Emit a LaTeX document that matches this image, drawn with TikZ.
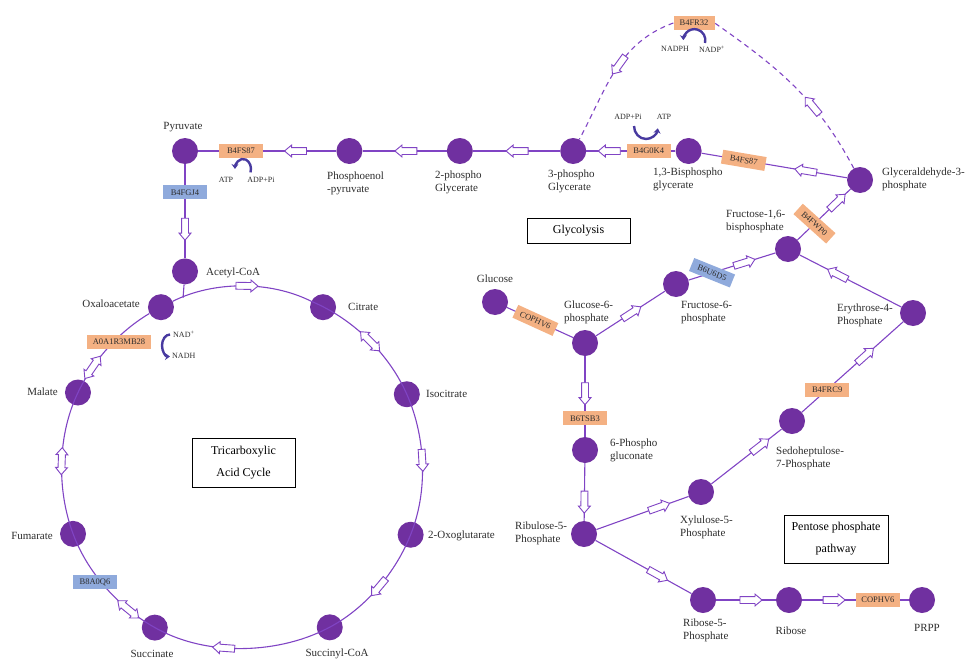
\documentclass[tikz,border=0pt]{standalone}
\usepackage{fontspec}
\setmainfont{Liberation Serif}
\usetikzlibrary{shapes,arrows.meta,positioning,calc}

\definecolor{metpurple}{RGB}{112,48,160}
\definecolor{linepurple}{RGB}{128,68,196}
\definecolor{enzorange}{RGB}{244,177,131}
\definecolor{enzblue}{RGB}{143,170,220}
\definecolor{cofblue}{RGB}{72,58,160}
\definecolor{txtgray}{RGB}{45,45,45}

\begin{document}
\begin{tikzpicture}[
    x=1pt, y=1pt,
    met/.style={circle, fill=metpurple, minimum size=26pt, inner sep=0pt},
    lbl/.style={font=\fontsize{11}{13}\selectfont, text=txtgray, inner sep=0pt, align=left},
    enz/.style={fill=enzorange, font=\fontsize{8.5}{10}\selectfont, text=txtgray, minimum width=44pt, minimum height=14pt, inner sep=1pt},
    enzb/.style={enz, fill=enzblue},
    cof/.style={font=\fontsize{8}{9}\selectfont, text=txtgray, inner sep=0pt},
    flow/.style={draw=linepurple, line width=1.1pt},
    dflow/.style={flow, dash pattern=on 5pt off 4pt},
    harrow/.style={single arrow, draw=linepurple, fill=white, solid, line width=0.9pt, minimum height=22pt, minimum width=11pt, single arrow head extend=2.5pt, single arrow tip angle=80, inner xsep=0pt, inner ysep=3pt, sloped, allow upside down},
    hdarrow/.style={double arrow, draw=linepurple, fill=white, solid, line width=0.9pt, minimum height=27pt, minimum width=11pt, double arrow head extend=2.5pt, double arrow tip angle=80, inner xsep=0pt, inner ysep=3pt, sloped, allow upside down},
    cofarrow/.style={draw=cofblue, line width=2.4pt, -{Stealth[length=5pt,width=7pt]}},
    pathbox/.style={draw=black, line width=1pt, font=\fontsize{12}{22}\selectfont, text=black, align=center, inner sep=0pt}
]
\useasboundingbox (0,0) rectangle (969,-661);

% glycolysis, upper row
\node[met] (pyr) at (185,-151) {};
\node[met, right=138pt of pyr] (pep) {};
\node[met, right=84pt of pep] (pg2) {};
\node[met, right=87pt of pg2] (pg3) {};
\node[met, right=89pt of pg3] (bpg) {};
\node[met] (g3p) at (860,-180) {};
\node[met, below=94pt of pyr] (acoa) {};

% glycolysis, lower part and pentose phosphate pathway
\node[met] (glc) at (495,-302) {};
\node[met] (g6p) at (585,-343) {};
\node[met] (f6p) at (676,-284) {};
\node[met] (f16bp) at (788,-249) {};
\node[met] (e4p) at (913,-313) {};
\node[met] (sedo) at (792,-421) {};
\node[met] (pg6) at (585,-450) {};
\node[met] (ru5p) at (584,-534) {};
\node[met] (xyl) at (701,-492) {};
\node[met] (r5p) at (703,-600) {};
\node[met] (rib) at (789,-600) {};
\node[met] (prpp) at (922,-600) {};

% TCA cycle
\coordinate (tca) at (242,-469);
\node[met] (oaa) at ($(tca)+(116.6:181)$) {};
\node[met] (cit) at ($(tca)+(63.4:181)$) {};
\node[met] (icit) at ($(tca)+(24.4:181)$) {};
\node[met] (oxo) at ($(tca)+(-21.3:181)$) {};
\node[met] (sca) at ($(tca)+(-61:181)$) {};
\node[met] (suc) at ($(tca)+(-118.8:181)$) {};
\node[met] (fum) at ($(tca)+(-159:181)$) {};
\node[met] (mal) at ($(tca)+(155:181)$) {};
\coordinate (join) at ($(tca)+(109:181)$);

% metabolite labels
\node[lbl] (t-pyr) at (183,-127) {Pyruvate};
\node[lbl, anchor=west] (t-pep) at (327,-183.5) {Phosphoenol\\-pyruvate};
\node[lbl, anchor=west] (t-pg2) at (435,-182.5) {2-phospho\\Glycerate};
\node[lbl, anchor=west] (t-pg3) at (548,-181.5) {3-phospho\\Glycerate};
\node[lbl, anchor=west] (t-bpg) at (653,-179.5) {1,3-Bisphospho\\glycerate};
\node[lbl, anchor=west] (t-g3p) at (882,-179) {Glyceraldehyde-3-\\phosphate};
\node[lbl, anchor=west] (t-f16bp) at (726,-222) {Fructose-1,6-\\bisphosphate};
\node[lbl, anchor=west] (t-acoa) at (206,-273) {Acetyl-CoA};
\node[lbl, anchor=east] (t-oaa) at (140,-304) {Oxaloacetate};
\node[lbl, anchor=west] (t-cit) at (348,-307) {Citrate};
\node[lbl, anchor=west] (t-icit) at (426,-394) {Isocitrate};
\node[lbl, anchor=east] (t-mal) at (58,-392) {Malate};
\node[lbl, anchor=east] (t-fum) at (53,-536) {Fumarate};
\node[lbl, anchor=west] (t-oxo) at (428,-536) {2-Oxoglutarate};
\node[lbl] (t-suc) at (152,-654) {Succinate};
\node[lbl] (t-sca) at (337,-654) {Succinyl-CoA};
\node[lbl] (t-glc) at (495,-279) {Glucose};
\node[lbl, anchor=west] (t-g6p) at (564,-312) {Glucose-6-\\phosphate};
\node[lbl, anchor=west] (t-f6p) at (681,-313) {Fructose-6-\\phosphate};
\node[lbl, anchor=west] (t-e4p) at (837,-315.5) {Erythrose-4-\\Phosphate};
\node[lbl, anchor=west] (t-sedo) at (776,-458.5) {Sedoheptulose-\\7-Phosphate};
\node[lbl, anchor=west] (t-pg6) at (610,-450.5) {6-Phospho\\gluconate};
\node[lbl, anchor=west] (t-ru5p) at (515,-533) {Ribulose-5-\\Phosphate};
\node[lbl, anchor=west] (t-xyl) at (680,-527) {Xylulose-5-\\Phosphate};
\node[lbl, anchor=west] (t-r5p) at (683,-630.5) {Ribose-5-\\Phosphate};
\node[lbl] (t-rib) at (791,-631) {Ribose};
\node[lbl] (t-prpp) at (927,-628) {PRPP};

% pathway boxes
\node[pathbox, minimum width=103pt, minimum height=25pt] (glyc) at (578.5,-230.5) {Glycolysis};
\node[pathbox, minimum width=103pt, minimum height=49pt] (tcab) at (243.5,-462.5) {Tricarboxylic\\Acid Cycle};
\node[pathbox, minimum width=104pt, minimum height=48pt] (pppb) at (836,-539) {Pentose phosphate\\pathway};

% glycolysis reactions
\draw[flow] (g3p) -- node[harrow, pos=.27] {} node[enz, sloped, pos=.71] (e-g3p) {B4FS87} (bpg);
\draw[flow] (bpg) -- node[enz, pos=.30] (e-bpg) {B4G0K4} node[harrow, pos=.72] {} (pg3);
\draw[flow] (pg3) -- node[harrow, pos=.47] {} (pg2);
\draw[flow] (pg2) -- node[harrow, pos=.46] {} (pep);
\draw[flow] (pep) -- node[harrow, pos=.28] {} node[enz, pos=.69] (e-pep) {B4FS87} (pyr);
\draw[flow] (pyr) -- node[enzb, pos=.30] (e-pyr) {B4FGJ4} node[harrow, pos=.67] {} (acoa);
\draw[flow] (acoa) -- (join);
\draw[flow] (glc) -- node[enz, sloped, pos=.43] (e-glc) {COPHV6} (g6p);
\draw[flow] (g6p) -- node[harrow, pos=.49] {} (f6p);
\draw[flow] (f6p) -- node[enzb, rotate=-22, pos=.27] (e-f6p) {B6U6D5} node[harrow, pos=.62] {} (f16bp);
\draw[flow] (f16bp) -- node[enz, rotate=-42, pos=.32] (e-f16bp) {B4FWP0} node[harrow, pos=.72] {} (g3p);

% dashed bypass over the top
\node[enz, minimum width=41pt] (fr32) at (694,-23) {B4FR32};
\draw[dflow] (g3p) to[out=118, in=-35] node[harrow, pos=.35] {} (fr32.east);
\draw[dflow] (fr32.west) to[out=200, in=62] node[harrow, pos=.45] {} (pg3);

% pentose phosphate reactions
\draw[flow] (e4p) -- node[harrow, pos=.61] {} (f16bp);
\draw[flow] (sedo) -- node[enz, pos=.25] (e-sedo) {B4FRC9} node[harrow, pos=.61] {} (e4p);
\draw[flow] (g6p) -- node[harrow, pos=.44] {} node[enz, pos=.77] (e-g6p) {B6TSB3} (pg6);
\draw[flow] (pg6) -- node[harrow, pos=.64] {} (ru5p);
\draw[flow] (ru5p) -- node[harrow, pos=.66] {} (xyl);
\draw[flow] (xyl) -- node[harrow, pos=.67] {} (sedo);
\draw[flow] (ru5p) -- node[harrow, pos=.63] {} (r5p);
\draw[flow] (r5p) -- node[harrow, pos=.55] {} (rib);
\draw[flow] (rib) -- node[harrow, pos=.28] {} node[enz, pos=.71] (e-rib) {COPHV6} (prpp);

% TCA cycle reactions
\draw[flow, looseness=.85] (oaa) to[bend left=26.6] node[harrow, pos=.52] {} (cit)
  to[bend left=19.5] node[hdarrow, pos=.58] {} (icit)
  to[bend left=22.9] node[harrow, pos=.55] {} (oxo)
  to[bend left=19.9] node[harrow, pos=.58] {} (sca)
  to[bend left=28.9] node[harrow, pos=.66] {} (suc)
  to[bend left=20.1] node[hdarrow, pos=.36] {} (fum)
  to[bend left=23] node[hdarrow, pos=.6] {} (mal)
  to[bend left=19.2] node[hdarrow, pos=.35] {} (oaa);
\node[enzb] (e-suc) at (95,-582) {B8A0Q6};
\node[enz, minimum width=64pt] (e-mal) at (119,-342) {A0A1R3MB28};

% cofactors
\node[cof] (c-atp1) at (226,-180) {ATP};
\node[cof] (c-adp1) at (261,-180) {ADP+Pi};
\draw[cofarrow] (250.5,-172.4) arc[start angle=-20, end angle=180, x radius=8, y radius=10];
\node[cof] (c-adp2) at (628,-117) {ADP+Pi};
\node[cof] (c-atp2) at (664,-117) {ATP};
\draw[cofarrow] (634,-126) arc[start angle=180, end angle=350, x radius=12, y radius=13];
\node[cof] (c-nadph) at (675,-49) {NADPH};
\node[cof] (c-nadp) at (712,-49) {NADP\textsuperscript{+}};
\draw[cofarrow] (705,-43) arc[start angle=-15, end angle=180, radius=11];
\node[cof, anchor=west] (c-nad) at (173,-334) {NAD\textsuperscript{+}};
\node[cof, anchor=west] (c-nadh) at (172,-356) {NADH};
\draw[cofarrow] (170,-334.5) arc[start angle=90, end angle=270, x radius=8, y radius=11];

\end{tikzpicture}
\end{document}
